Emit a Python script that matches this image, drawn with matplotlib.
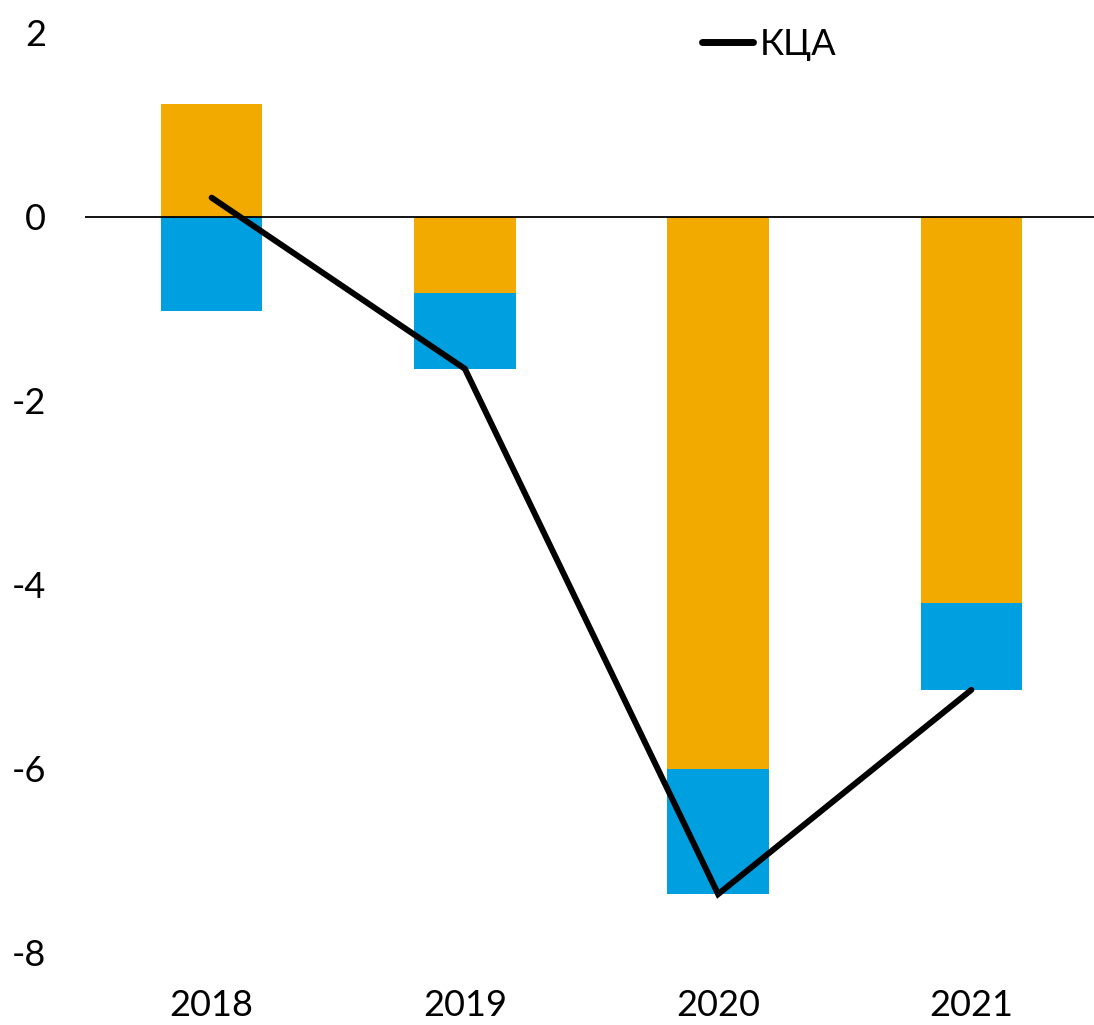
import matplotlib
matplotlib.use("Agg")
import matplotlib.pyplot as plt
import numpy as np

plt.rcParams['font.family'] = ['Lato', 'DejaVu Sans']

years = ["2018", "2019", "2020", "2021"]
orange_vals = [1.23, -0.83, -6.0, -4.2]
blue_vals = [-1.02, -0.82, -1.36, -0.94]
kca_vals = [0.21, -1.65, -7.36, -5.14]
yticks = [-8, -6, -4, -2, 0, 2]

ORANGE = "#F2AA00"
BLUE = "#009FDF"

fig = plt.figure(figsize=(10.94, 10.25), dpi=100)
ax = fig.add_axes([85/1094, 1-953/1025, 1013/1094, (953-33)/1025])

x = np.arange(len(years))
orange = np.array(orange_vals)
blue = np.array(blue_vals)
# stacking: negative parts stack below previous negatives
blue_bottom = np.where(orange < 0, orange, 0)

ax.bar(x, orange, width=0.4, color=ORANGE, zorder=2)
ax.bar(x, blue, width=0.4, bottom=blue_bottom, color=BLUE, zorder=2)
ax.axhline(0, color="black", lw=1.3, zorder=3)
ax.plot(x, kca_vals, color="black", lw=4.3, solid_capstyle="round",
        solid_joinstyle="miter", zorder=4, label="КЦА")

ax.set_xlim(-0.5, 3.5)
ax.set_ylim(-8, 2)
ax.set_xticks(x)
ax.set_xticklabels(years)
ax.set_yticks(yticks)
ax.set_yticklabels([str(v) for v in yticks])
ax.tick_params(axis='both', length=0, labelsize=26)
ax.tick_params(axis='y', pad=28)
ax.tick_params(axis='x', pad=26)
for s in ax.spines.values():
    s.set_visible(False)

leg = ax.legend(loc="upper left", bbox_to_anchor=(0.577, 1.041), frameon=False,
                fontsize=26, handlelength=1.4, handletextpad=0.2)
for h in leg.get_lines():
    h.set_linewidth(5)

fig.savefig("out.png", dpi=100)
